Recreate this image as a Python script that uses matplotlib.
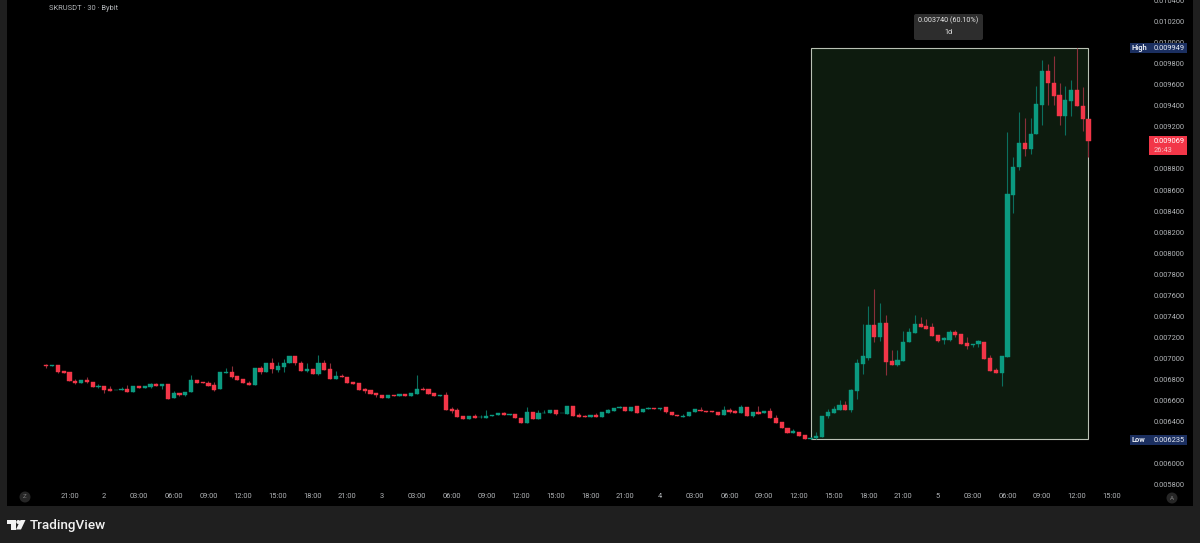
import numpy as np
import matplotlib
matplotlib.use("Agg")
import matplotlib.pyplot as plt
import matplotlib.patches as patches
import matplotlib.ticker as ticker
from matplotlib.transforms import Affine2D

# prices in millionths of a USDT, one candle per 30 minutes
opens = [6941, 6929, 6938, 6878, 6869, 6789, 6764, 6799, 6780, 6729,
         6736, 6713, 6698, 6698, 6710, 6685, 6736, 6723, 6729, 6758,
         6742, 6758, 6622, 6675, 6657, 6679, 6793, 6774, 6770, 6748,
         6707, 6862, 6869, 6834, 6805, 6770, 6751, 6910, 6872, 6960,
         6894, 6922, 6960, 7024, 6960, 6878, 6900, 6849, 6957, 6900,
         6802, 6836, 6824, 6773, 6764, 6710, 6700, 6669, 6653, 6621,
         6653, 6640, 6659, 6640, 6665, 6714, 6713, 6672, 6644, 6656,
         6523, 6511, 6451, 6422, 6457, 6441, 6438, 6457, 6460, 6479,
         6466, 6470, 6438, 6384, 6495, 6428, 6479, 6479, 6511, 6479,
         6476, 6552, 6460, 6451, 6441, 6466, 6447, 6485, 6505, 6533,
         6539, 6505, 6546, 6489, 6517, 6530, 6523, 6539, 6495, 6463,
         6448, 6451, 6489, 6514, 6504, 6498, 6495, 6466, 6514, 6498,
         6485, 6539, 6454, 6495, 6479, 6498, 6432, 6394, 6340, 6289,
         6305, 6270, 6238, 6243, 6256, 6452, 6487, 6509, 6563, 6509,
         6696, 6946, 7009, 7316, 7206, 7342, 6974, 6943, 6981, 7155,
         7241, 7329, 7307, 7301, 7225, 7174, 7180, 7250, 7237, 7149,
         7130, 7139, 7161, 7009, 6895, 6864, 7016, 8551, 8822, 9050,
         8987, 9132, 9408, 9727, 9613, 9499, 9300, 9449, 9550, 9398,
         9272]
highs = [6951, 6941, 6938, 6880, 6869, 6808, 6799, 6821, 6780, 6761,
         6736, 6742, 6704, 6732, 6751, 6736, 6736, 6736, 6764, 6767,
         6758, 6758, 6691, 6675, 6682, 6846, 6793, 6774, 6789, 6777,
         6869, 6910, 6932, 6834, 6805, 6786, 6910, 6926, 6960, 7005,
         6964, 6998, 7024, 7024, 6973, 6957, 6900, 7030, 6982, 6957,
         6878, 6855, 6824, 6773, 6764, 6719, 6700, 6669, 6653, 6653,
         6653, 6659, 6659, 6675, 6840, 6729, 6713, 6672, 6656, 6679,
         6542, 6527, 6451, 6457, 6470, 6463, 6514, 6463, 6479, 6492,
         6473, 6470, 6438, 6539, 6495, 6514, 6514, 6511, 6511, 6485,
         6549, 6552, 6482, 6460, 6466, 6482, 6492, 6520, 6530, 6552,
         6539, 6542, 6546, 6520, 6539, 6530, 6533, 6539, 6495, 6463,
         6476, 6495, 6517, 6539, 6504, 6498, 6495, 6546, 6533, 6507,
         6555, 6539, 6495, 6552, 6498, 6527, 6466, 6394, 6340, 6333,
         6305, 6270, 6257, 6300, 6458, 6525, 6550, 6604, 6594, 6715,
         6993, 7326, 7497, 7665, 7529, 7411, 7079, 7079, 7263, 7291,
         7411, 7396, 7373, 7342, 7225, 7202, 7275, 7269, 7237, 7206,
         7142, 7180, 7161, 7038, 6908, 7022, 9150, 8909, 9344, 9287,
         9281, 9588, 9835, 9794, 9873, 9613, 9588, 9645, 9949, 9575,
         9272]
lows = [6913, 6929, 6862, 6862, 6786, 6761, 6764, 6764, 6732, 6723,
        6672, 6688, 6698, 6698, 6679, 6685, 6723, 6723, 6717, 6742,
        6713, 6612, 6622, 6647, 6647, 6679, 6764, 6764, 6742, 6688,
        6707, 6862, 6815, 6799, 6764, 6748, 6751, 6853, 6872, 6862,
        6872, 6875, 6960, 6941, 6881, 6871, 6852, 6840, 6893, 6802,
        6802, 6821, 6767, 6760, 6697, 6672, 6665, 6631, 6621, 6621,
        6640, 6640, 6640, 6640, 6665, 6704, 6666, 6644, 6644, 6514,
        6482, 6447, 6422, 6422, 6438, 6438, 6438, 6457, 6460, 6466,
        6466, 6435, 6384, 6384, 6428, 6428, 6479, 6479, 6460, 6479,
        6476, 6454, 6444, 6441, 6441, 6447, 6447, 6485, 6505, 6533,
        6505, 6505, 6485, 6489, 6517, 6523, 6514, 6482, 6460, 6451,
        6448, 6451, 6489, 6498, 6492, 6489, 6466, 6466, 6482, 6485,
        6485, 6454, 6441, 6476, 6479, 6432, 6390, 6337, 6292, 6289,
        6267, 6235, 6235, 6235, 6256, 6439, 6487, 6509, 6509, 6490,
        6613, 6851, 6984, 7155, 7168, 6845, 6936, 6930, 6981, 7155,
        7241, 7297, 7285, 7218, 7155, 7139, 7164, 7206, 7139, 7095,
        7107, 7110, 7000, 6886, 6864, 6737, 7016, 8384, 8790, 8927,
        8943, 9132, 9218, 9408, 9408, 9218, 9123, 9306, 9398, 9164,
        8917]
closes = [6926, 6938, 6872, 6865, 6786, 6764, 6799, 6774, 6732, 6736,
          6704, 6688, 6704, 6713, 6682, 6736, 6723, 6736, 6758, 6742,
          6758, 6618, 6675, 6653, 6682, 6793, 6764, 6764, 6742, 6704,
          6869, 6875, 6827, 6799, 6764, 6748, 6910, 6869, 6960, 6900,
          6926, 6960, 7024, 6960, 6881, 6903, 6852, 6957, 6893, 6808,
          6836, 6821, 6767, 6760, 6697, 6688, 6665, 6650, 6621, 6653,
          6640, 6659, 6640, 6675, 6710, 6704, 6666, 6644, 6656, 6514,
          6504, 6447, 6422, 6457, 6438, 6447, 6457, 6463, 6479, 6466,
          6473, 6435, 6384, 6495, 6428, 6482, 6485, 6511, 6473, 6485,
          6549, 6454, 6444, 6441, 6466, 6447, 6492, 6511, 6530, 6539,
          6505, 6542, 6485, 6520, 6527, 6523, 6533, 6495, 6460, 6451,
          6457, 6495, 6517, 6498, 6492, 6489, 6466, 6514, 6492, 6485,
          6539, 6454, 6495, 6476, 6498, 6432, 6390, 6337, 6292, 6308,
          6267, 6240, 6250, 6265, 6458, 6496, 6518, 6563, 6509, 6705,
          6955, 7022, 7316, 7206, 7342, 6968, 6943, 6984, 7161, 7250,
          7329, 7297, 7285, 7218, 7171, 7193, 7250, 7228, 7139, 7123,
          7142, 7164, 7000, 6886, 6864, 7022, 8561, 8821, 9050, 8987,
          9132, 9414, 9727, 9613, 9493, 9300, 9455, 9550, 9398, 9272,
          9069]

time_labels = ["21:00", "2", "03:00", "06:00", "09:00", "12:00", "15:00", "18:00",
               "21:00", "3", "03:00", "06:00", "09:00", "12:00", "15:00", "18:00",
               "21:00", "4", "03:00", "06:00", "09:00", "12:00", "15:00", "18:00",
               "21:00", "5", "03:00", "06:00", "09:00", "12:00", "15:00"]
first_label_candle = 4
measure_start = 132
measure_end = 180
# these two sit fully behind the last price and Low tags
hidden_price_labels = ["0.009000", "0.006200"]

GREEN = "#0b9a80"
RED = "#f23648"
GREEN_WICK = "#0b6f5e"
RED_WICK = "#8a2f3a"
TEXT = "#b2b5b8"

plt.rcParams["font.family"] = ["Roboto", "DejaVu Sans"]

o = np.array(opens) * 1e-6
h = np.array(highs) * 1e-6
l = np.array(lows) * 1e-6
c = np.array(closes) * 1e-6
idx = np.arange(len(o))
up = c >= o

fig = plt.figure(figsize=(12, 5.43), dpi=100, facecolor="#1f1f1f")
# pixel coordinates, y down, for the screenshot furniture
pix = Affine2D().scale(1, -1).translate(0, 543)

ax = fig.add_axes([7 / 1200, (543 - 505.5) / 543, 1186 / 1200, 505.5 / 543], facecolor="black")
ax.set_xlim(-6.79, 198.05)
ax.set_ylim(0.005605, 0.010404)
for side in ax.spines.values():
    side.set_visible(False)

# measure box behind the candles
ax.add_patch(patches.Rectangle((measure_start, l.min()), measure_end - measure_start, h.max() - l.min(),
                               facecolor="#0d1b0e", edgecolor="#b9c1b4", linewidth=0.8, zorder=1))

ax.vlines(idx[up], l[up], h[up], color=GREEN_WICK, linewidth=0.8, zorder=2)
ax.vlines(idx[~up], l[~up], h[~up], color=RED_WICK, linewidth=0.8, zorder=2)
ax.bar(idx[up], (c - o)[up], bottom=o[up], width=0.72, color=GREEN, edgecolor=GREEN, linewidth=0.3, zorder=3)
ax.bar(idx[~up], (c - o)[~up], bottom=o[~up], width=0.72, color=RED, edgecolor=RED, linewidth=0.3, zorder=3)

ax.yaxis.tick_right()
ax.set_yticks(np.arange(0.0058, 0.01041, 0.0002))
ax.yaxis.set_major_formatter(ticker.FuncFormatter(
    lambda v, pos: "" if f"{v:.6f}" in hidden_price_labels else f"{v:.6f}"))
ax.tick_params(axis="y", length=0, pad=-6, labelsize=5.4, labelcolor=TEXT)
for lab in ax.get_yticklabels():
    lab.set_horizontalalignment("right")

ax.set_xticks(first_label_candle + 6 * np.arange(len(time_labels)))
ax.set_xticklabels(time_labels)
ax.tick_params(axis="x", length=0, pad=-8.8, labelsize=5.4, labelcolor=TEXT)

fig.text(49, 8, "SKRUSDT · 30 · Bybit", transform=pix, fontsize=5.4, color=TEXT, va="center", zorder=5)

# measure tooltip
fig.add_artist(patches.FancyBboxPatch((914, 14), 69, 26, boxstyle="round,pad=0,rounding_size=2",
                                      transform=pix, facecolor="#2d2d2d", edgecolor="none", zorder=4))
fig.text(948.5, 20.5, "0.003740 (60.10%)", transform=pix, fontsize=5.2, color="#e4e4e4",
         ha="center", va="center", zorder=5)
fig.text(948.5, 33, "1d", transform=pix, fontsize=5.2, color="#e4e4e4", ha="center", va="center", zorder=5)


def price_tag(top, height, label, value):
    fig.add_artist(patches.Rectangle((1130, top), 57, height, transform=pix, facecolor="#1b2f60",
                                     edgecolor="none", zorder=4))
    fig.text(1131.5, top + height / 2, label, transform=pix, fontsize=5.4, color="#e8ecf4",
             fontweight="bold", va="center", zorder=5)
    fig.text(1184.5, top + height / 2, value, transform=pix, fontsize=5.4, color="#e8ecf4",
             ha="right", va="center", zorder=5)


price_tag(43, 10, "High", "0.009949")
price_tag(435, 10, "Low", "0.006235")

# last price tag
fig.add_artist(patches.Rectangle((1149, 136), 38, 19, transform=pix, facecolor=RED, edgecolor="none", zorder=4))
fig.text(1184.5, 141.5, "0.009069", transform=pix, fontsize=5.4, color="white", ha="right", va="center", zorder=5)
fig.text(1154, 150, "26:43", transform=pix, fontsize=5.4, color="#f7c4c9", va="center", zorder=5)

# round buttons on the time axis
for cx, cy, letter in [(25, 497, "Z"), (1172, 498, "A")]:
    fig.add_artist(patches.Circle((cx, cy), 5.5, transform=pix, facecolor="#262626", edgecolor="none", zorder=4))
    fig.text(cx, cy, letter, transform=pix, fontsize=4.5, color="#7c7c7c", ha="center", va="center", zorder=5)

# TradingView logo
logo = [patches.Polygon([(7, 520), (16, 520), (16, 529.5), (11, 529.5), (11, 524), (7, 524)]),
        patches.Circle((18.3, 522), 2),
        patches.Polygon([(20.5, 520), (25.5, 520), (21, 529.5), (16, 529.5)])]
for part in logo:
    part.set(transform=pix, facecolor="#f2f2f2", edgecolor="none", zorder=5)
    fig.add_artist(part)
fig.text(30, 525, "TradingView", transform=pix, fontsize=9.7, color="#f2f2f2", fontweight="medium",
         va="center", zorder=5)

fig.savefig("out.png", facecolor=fig.get_facecolor())
